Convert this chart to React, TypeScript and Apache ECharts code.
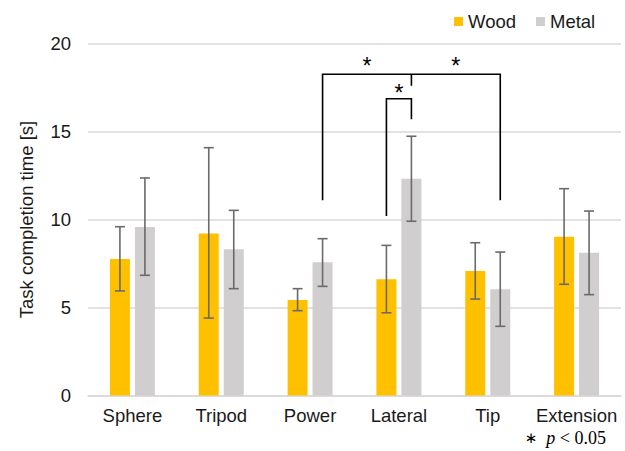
import React, { useEffect, useRef } from "react";
import * as echarts from "echarts";

// Grasp types on the x axis
const categories = ["Sphere", "Tripod", "Power", "Lateral", "Tip", "Extension"];

// Mean task completion time [s]
const woodMean = [7.76, 9.21, 5.43, 6.6, 7.07, 9.02];
const metalMean = [9.57, 8.31, 7.57, 12.32, 6.03, 8.11];

// Error bar limits [s]
const woodLow = [5.94, 4.4, 4.82, 4.7, 5.48, 6.32];
const woodHigh = [9.59, 14.08, 6.07, 8.53, 8.68, 11.75];
const metalLow = [6.83, 6.07, 6.2, 9.9, 3.93, 5.73];
const metalHigh = [12.36, 10.52, 8.91, 14.73, 8.15, 10.48];

const yTicks = { min: 0, max: 20, interval: 5 };

// Significance brackets: points as [category, series, value]
type BracketPoint = [string, "Wood" | "Metal", number];
const bracketPaths: BracketPoint[][] = [
  [
    ["Power", "Metal", 11.1],
    ["Power", "Metal", 18.25],
    ["Tip", "Metal", 18.25],
    ["Tip", "Metal", 11.1],
  ],
  [
    ["Lateral", "Metal", 18.25],
    ["Lateral", "Metal", 17.6],
  ],
  [
    ["Lateral", "Wood", 10.2],
    ["Lateral", "Wood", 16.86],
    ["Lateral", "Metal", 16.86],
    ["Lateral", "Metal", 15.7],
  ],
];

// Asterisks: centred between two bar positions, at a given value
const starMarks: [BracketPoint, BracketPoint][] = [
  [["Power", "Metal", 19.0], ["Lateral", "Metal", 19.0]],
  [["Lateral", "Metal", 19.0], ["Tip", "Metal", 19.0]],
  [["Lateral", "Wood", 17.49], ["Lateral", "Metal", 17.49]],
];

const WOOD = "#FFC000";
const METAL = "#D0CECE";
const ERR = "#6a6a6a";
const BAR_W = 20;
const BAR_OFFSET = 12.5; // half of bar width + half gap
const FONT = "'Liberation Sans', Arial, sans-serif";
const SERIF = "'Liberation Serif', 'Times New Roman', serif";
const FS = 18.5;
const STAR_FS = 23;

function sideOffset(s: "Wood" | "Metal") {
  return s === "Wood" ? -BAR_OFFSET : BAR_OFFSET;
}

function errorSeries(name: string, low: number[], high: number[], side: "Wood" | "Metal") {
  return {
    type: "custom",
    name: name + " error",
    z: 5,
    silent: true,
    encode: { x: 0, y: [1, 2] },
    data: low.map((l, i) => [i, l, high[i]]),
    renderItem: (params: any, api: any) => {
      const i = api.value(0);
      const lo = api.coord([i, api.value(1)]);
      const hi = api.coord([i, api.value(2)]);
      const x = lo[0] + sideOffset(side);
      const cap = 5;
      const style = { stroke: ERR, lineWidth: 1.6, fill: "none" };
      return {
        type: "group",
        children: [
          { type: "line", shape: { x1: x, y1: lo[1], x2: x, y2: hi[1] }, style },
          { type: "line", shape: { x1: x - cap, y1: lo[1], x2: x + cap, y2: lo[1] }, style },
          { type: "line", shape: { x1: x - cap, y1: hi[1], x2: x + cap, y2: hi[1] }, style },
        ],
      };
    },
  };
}

export default function App() {
  const ref = useRef<HTMLDivElement>(null);

  useEffect(() => {
    if (!ref.current) return;
    const chart = echarts.init(ref.current, null, { renderer: "svg" });

    const toPixel = (api: any, p: BracketPoint) => {
      const c = api.coord([categories.indexOf(p[0]), p[2]]);
      return [c[0] + sideOffset(p[1]), c[1]];
    };

    chart.setOption({
      animation: false,
      textStyle: { fontFamily: FONT },
      legend: {
        data: ["Wood", "Metal"],
        left: 449,
        top: 7,
        itemWidth: 9,
        itemHeight: 9,
        itemGap: 20,
        icon: "rect",
        textStyle: { fontSize: FS, color: "#1a1a1a", fontFamily: FONT },
      },
      grid: { left: 88, right: 4, top: 43.5, bottom: 55.5 },
      xAxis: {
        type: "category",
        data: categories,
        axisLine: { lineStyle: { color: "#d9d9d9", width: 1.5 } },
        axisTick: { show: false },
        axisLabel: { fontSize: FS, color: "#1a1a1a", margin: 10, interval: 0, fontFamily: FONT },
      },
      yAxis: {
        type: "value",
        min: yTicks.min,
        max: yTicks.max,
        interval: yTicks.interval,
        name: "Task completion time [s]",
        nameLocation: "middle",
        nameGap: 52,
        nameTextStyle: { fontSize: FS, color: "#1a1a1a", fontFamily: FONT },
        axisLine: { show: false },
        axisTick: { show: false },
        axisLabel: { fontSize: FS, color: "#1a1a1a", margin: 17, fontFamily: FONT },
        splitLine: { lineStyle: { color: "#d9d9d9", width: 1.5 } },
      },
      series: [
        {
          type: "bar",
          name: "Wood",
          data: woodMean,
          barWidth: BAR_W,
          barGap: "25%",
          itemStyle: { color: WOOD },
        },
        {
          type: "bar",
          name: "Metal",
          data: metalMean,
          barWidth: BAR_W,
          barGap: "25%",
          itemStyle: { color: METAL },
        },
        errorSeries("Wood", woodLow, woodHigh, "Wood"),
        errorSeries("Metal", metalLow, metalHigh, "Metal"),
        {
          type: "custom",
          name: "brackets",
          z: 6,
          silent: true,
          data: bracketPaths.map((p) => [categories.indexOf(p[0][0]), p[0][2]]),
          renderItem: (params: any, api: any) => {
            const path = bracketPaths[params.dataIndex];
            return {
              type: "polyline",
              shape: { points: path.map((p) => toPixel(api, p)) },
              style: { stroke: "#000", lineWidth: 1.6, fill: "none" },
            };
          },
        },
        {
          type: "custom",
          name: "stars",
          z: 6,
          silent: true,
          data: starMarks.map((s) => [categories.indexOf(s[0][0]), s[0][2]]),
          renderItem: (params: any, api: any) => {
            const [a, b] = starMarks[params.dataIndex];
            const pa = toPixel(api, a);
            const pb = toPixel(api, b);
            return {
              type: "text",
              x: (pa[0] + pb[0]) / 2,
              y: pa[1] + STAR_FS * 0.23,
              style: {
                text: "*",
                fontSize: STAR_FS,
                fontFamily: FONT,
                fill: "#000",
                align: "center",
                verticalAlign: "middle",
              },
            };
          },
        },
      ],
      graphic: [
        {
          type: "text",
          right: 19,
          top: 429,
          style: {
            text: "{s|\u2217}  {p|p} < 0.05",
            fill: "#000",
            font: "18px " + SERIF,
            rich: {
              s: { fontSize: 15, fontFamily: "'DejaVu Sans', sans-serif", fill: "#000" },
              p: { fontSize: 18, fontStyle: "italic", fontFamily: SERIF, fill: "#000" },
            },
          },
        },
      ],
    });

    return () => chart.dispose();
  }, []);

  return (
    <div
      ref={ref}
      style={{ position: "absolute", left: 0, top: 0, width: 625, height: 451 }}
    />
  );
}
